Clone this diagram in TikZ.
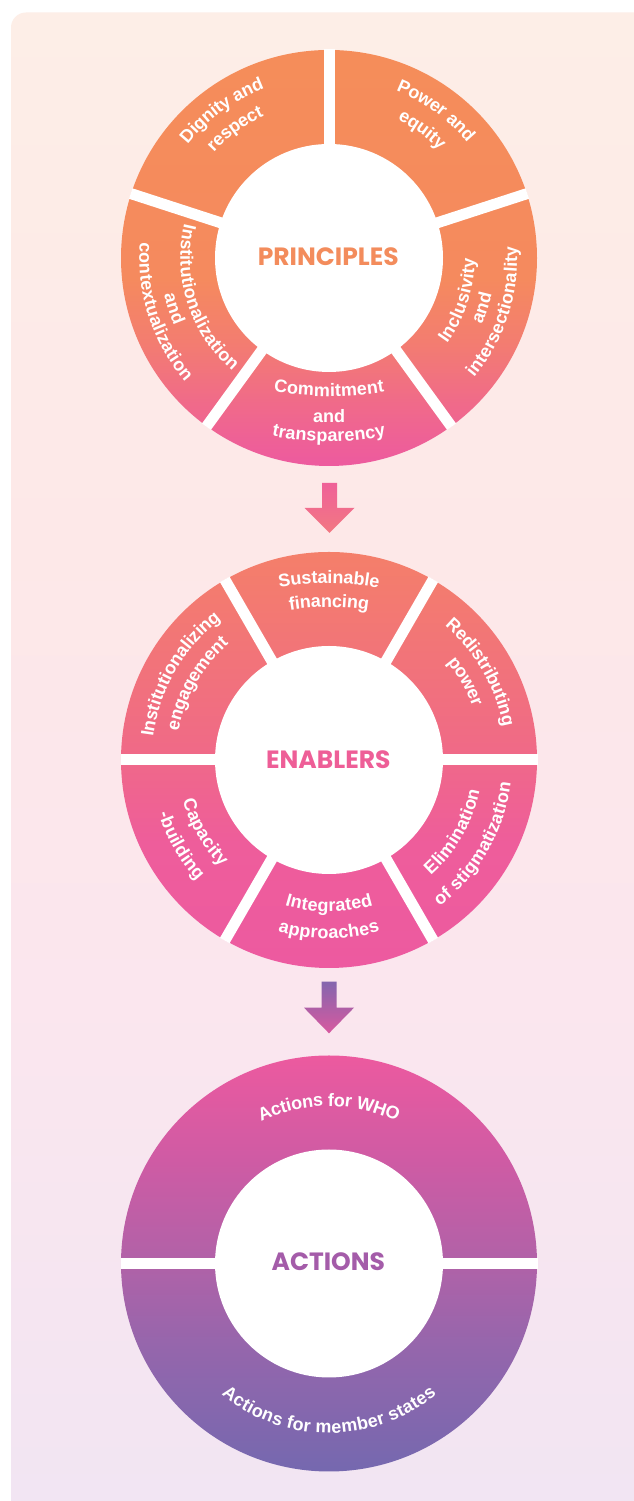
\documentclass[tikz,border=0pt]{standalone}
\usepackage{fontspec}
\newfontfamily\labfam{Liberation Sans}
\newfontfamily\cenfam{Poppins}
\usetikzlibrary{decorations.text,calc}
\definecolor{bgA}{HTML}{FDEEE7}
\definecolor{bgB}{HTML}{FDE8E8}
\definecolor{bgC}{HTML}{FBE6EE}
\definecolor{bgD}{HTML}{F1E5F3}
\definecolor{pA}{HTML}{ED5A9F}
\definecolor{pB}{HTML}{F06A8A}
\definecolor{pC}{HTML}{F37D70}
\definecolor{pD}{HTML}{F58A5E}
\definecolor{pE}{HTML}{F58D5A}
\definecolor{eA}{HTML}{ED5AA0}
\definecolor{eB}{HTML}{EE5D9B}
\definecolor{eC}{HTML}{F06B85}
\definecolor{eD}{HTML}{F47F6A}
\definecolor{aA}{HTML}{7568AF}
\definecolor{aB}{HTML}{9566AC}
\definecolor{aC}{HTML}{B062A8}
\definecolor{aD}{HTML}{CF5BA4}
\definecolor{aE}{HTML}{EC5A9F}
\definecolor{princol}{HTML}{F38C5C}
\definecolor{enacol}{HTML}{EE5E97}
\definecolor{actcol}{HTML}{A45CA9}
\definecolor{arrAtop}{HTML}{EF6198}
\definecolor{arrAbot}{HTML}{F27882}
\definecolor{arrBtop}{HTML}{8466AE}
\definecolor{arrBbot}{HTML}{D8599F}
\pgfdeclareverticalshading{bgshade}{100bp}{color(0bp)=(bgD); color(25bp)=(bgD); color(42.5bp)=(bgC); color(57.5bp)=(bgB); color(75bp)=(bgA); color(100bp)=(bgA)}
\pgfdeclareverticalshading{pshade}{100bp}{color(0bp)=(pA); color(25bp)=(pA); color(32.5bp)=(pB); color(40bp)=(pC); color(47.5bp)=(pD); color(75bp)=(pE); color(100bp)=(pE)}
\pgfdeclareverticalshading{eshade}{100bp}{color(0bp)=(eA); color(25bp)=(eA); color(40bp)=(eB); color(52.5bp)=(eC); color(75bp)=(eD); color(100bp)=(eD)}
\pgfdeclareverticalshading{ashade}{100bp}{color(0bp)=(aA); color(25bp)=(aA); color(40bp)=(aB); color(50bp)=(aC); color(62.5bp)=(aD); color(75bp)=(aE); color(100bp)=(aE)}
\newcommand\labfont{\labfam\bfseries\fontsize{18pt}{21pt}\selectfont}
\newcommand\labin[4]{\path[decorate,decoration={text along path,text={|\labfont|#4},text align=center,text color=white,raise=-4.7pt}] ($(#1)+(#3-75:#2)$) arc[start angle=#3-75,end angle=#3+75,radius=#2];}
\newcommand\labout[4]{\path[decorate,decoration={text along path,text={|\labfont|#4},text align=center,text color=white,raise=-4.7pt}] ($(#1)+(#3+75:#2)$) arc[start angle=#3+75,end angle=#3-75,radius=#2];}
\begin{document}
\begin{tikzpicture}[x=1pt,y=1pt,
  gap/.style={white,line width=11pt},
  cenlab/.style={inner sep=0pt,font=\cenfam\bfseries\fontsize{25pt}{30pt}\selectfont}]
\useasboundingbox (0,0) rectangle (633,1501);
\fill[white] (0,0) rectangle (633,1501);
\shade[shading=bgshade,rounded corners=15pt] (11,1488.5) rectangle (660,-25);
% centres
\coordinate (P) at (329,1243);
\coordinate (E) at (329,741);
\coordinate (A) at (329,237.5);
% ---------- PRINCIPLES
\shade[shading=pshade] (P) circle[radius=208];
\foreach \a in {90,18,-54,-126,162} \draw[gap] (P) -- ++(\a:208.5);
\fill[white] (P) circle[radius=114];
\node[cenlab,text=princol] (ptitle) at (328.3,1243.8) {PRINCIPLES};
\labout{P}{186}{126}{Dignity and}
\labout{P}{161}{126}{respect}
\labout{P}{185}{54}{Power and}
\labout{P}{159}{54}{equity}
\labin{P}{144}{198}{Institutionalization}
\labin{P}{164}{198}{and}
\labin{P}{185}{198}{contextualization}
\labin{P}{141}{-18}{Inclusivity}
\labin{P}{162}{-18}{and}
\labin{P}{183.5}{-18}{intersectionality}
\coordinate (cC) at (329,1459.5);
\coordinate (cT) at (329,1337.75);
\labin{cC}{350}{270}{Commitment}
\path[decorate,decoration={text along path,text={|\labfont|and},text align=center,text color=white,raise=-4.7pt}] (270,1082.7) -- (388,1082.7);
\labin{cT}{273.75}{270}{transparency}
% ---------- arrow 1
\coordinate (a1) at (329.5,1018);
\shade[top color=arrAtop,bottom color=arrAbot] ($(a1)+(-7.5,0)$) -- ($(a1)+(7.5,0)$) -- ($(a1)+(7.5,-25)$) -- ($(a1)+(25,-25)$) -- ($(a1)+(0,-50)$) -- ($(a1)+(-25,-25)$) -- ($(a1)+(-7.5,-25)$) -- cycle;
% ---------- ENABLERS
\shade[shading=eshade] (E) circle[radius=208];
\foreach \a in {0,60,120,180,240,300} \draw[gap] (E) -- ++(\a:208.5);
\fill[white] (E) circle[radius=114];
\node[cenlab,text=enacol] (etitle) at (328.3,741.8) {ENABLERS};
\coordinate (cS) at (329,645.3);
\coordinate (cF) at (329,648.3);
\labout{cS}{277}{90}{Sustainable}
\labout{cF}{250}{90}{financing}
\labout{E}{182}{30}{Redistributing}
\labout{E}{158}{30}{power}
\labout{E}{182}{150}{Institutionalizing}
\labout{E}{158}{150}{engagement}
\labin{E}{147}{210}{Capacity}
\labin{E}{174}{210}{-building}
\labin{E}{147}{270}{Integrated}
\labin{E}{174}{270}{approaches}
\labin{E}{149}{330}{Elimination}
\labin{E}{178.5}{330}{of stigmatization}
% ---------- arrow 2
\coordinate (a2) at (329,519.3);
\shade[top color=arrBtop,bottom color=arrBbot] ($(a2)+(-7.5,0)$) -- ($(a2)+(7.5,0)$) -- ($(a2)+(7.5,-26)$) -- ($(a2)+(25,-26)$) -- ($(a2)+(0,-51.6)$) -- ($(a2)+(-25,-26)$) -- ($(a2)+(-7.5,-26)$) -- cycle;
% ---------- ACTIONS
\shade[shading=ashade] (A) circle[radius=208];
\foreach \a in {0,180} \draw[gap] (A) -- ++(\a:208.5);
\fill[white] (A) circle[radius=114];
\node[cenlab,text=actcol] (atitle) at (328.3,239) {ACTIONS};
\labout{A}{162}{90}{Actions for WHO}
\labin{A}{165}{270}{Actions for member states}
\end{tikzpicture}
\end{document}
